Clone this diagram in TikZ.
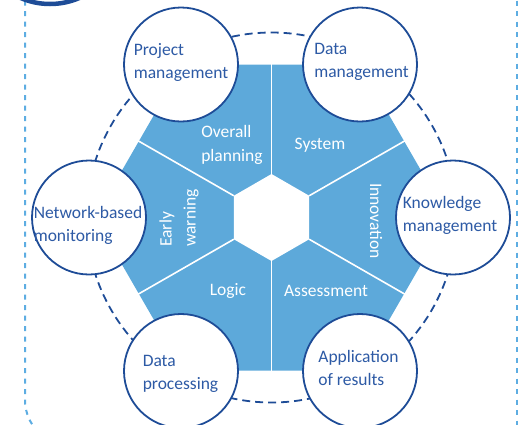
\documentclass[tikz,border=0pt]{standalone}
\usepackage{fontspec}
\setmainfont{Carlito}
\definecolor{hexblue}{HTML}{5DA9DA}
\definecolor{darkb}{HTML}{1E4C97}
\definecolor{txtb}{HTML}{2D5AA5}
\definecolor{framec}{HTML}{5DADE2}
\begin{document}
\begin{tikzpicture}[x=1pt,y=-1pt,
 bubble/.style={circle, draw=darkb, line width=1.8pt, fill=white, minimum size=114pt, inner sep=0pt},
 btext/.style={text=txtb, font=\fontsize{17.5}{23}\selectfont, align=left, inner sep=0pt},
 stext/.style={text=white, font=\fontsize{17.5}{24}\selectfont, align=left, inner sep=0pt},
 divider/.style={draw=white, line width=1.6pt},
 ring/.style={draw=darkb, line width=1.8pt, dash pattern=on 8pt off 5pt},
 frame/.style={draw=framec, line width=2pt, dash pattern=on 5pt off 5.5pt}]
\useasboundingbox (0,0) rectangle (529,424);
\clip (0,0) rectangle (529,424);
% frame
\draw[frame] (517,-10) -- (517,440);
\draw[frame, rounded corners=45pt] (25,-10) -- (25,445) -- (120,445);
% badge arc top-left
\draw[darkb, line width=4.5pt] (50,-70) circle[radius=74];
% outer hexagon
\fill[hexblue] (448.2,217.5) -- (359.85,64.5) -- (183.15,64.5) -- (94.8,217.5) -- (183.15,370.5) -- (359.85,370.5) -- cycle;
% inner hexagon
\fill[white] (271.5,174) -- (309.2,195.75) -- (309.2,239.25) -- (271.5,261) -- (233.8,239.25) -- (233.8,195.75) -- cycle;
% dividers
\coordinate (i1) at (271.5,174);
\coordinate (i2) at (309.2,195.75);
\coordinate (i3) at (309.2,239.25);
\coordinate (i4) at (271.5,261);
\coordinate (i5) at (233.8,239.25);
\coordinate (i6) at (233.8,195.75);
\coordinate (o1) at (271.5,60);
\coordinate (o2) at (408,139);
\coordinate (o3) at (408,296);
\coordinate (o4) at (271.5,375);
\coordinate (o5) at (135,296);
\coordinate (o6) at (135,139);
\foreach \k in {1,...,6} \draw[divider] (i\k) -- (o\k);
% dashed ring
\draw[ring] (271.5,217.5) circle[radius=185];
% bubbles
\node[bubble] (pm) at (181,64.5) {};
\node[bubble] (dm) at (360,64.5) {};
\node[bubble] (km) at (453,217.5) {};
\node[bubble] (ar) at (360,371) {};
\node[bubble] (dp) at (181,371) {};
\node[bubble] (nm) at (89,217.5) {};
% bubble texts
\node[btext] (pmt) at (181,62) {Project\\management};
\node[btext] (dmt) at (361.5,62) {Data\\management};
\node[btext] (kmt) at (450,215.5) {Knowledge\\management};
\node[btext] (nmt) at (88,225) {Network-based\\monitoring};
\node[btext] (dpt) at (180.5,373.5) {Data\\processing};
\node[btext] (art) at (358.5,367.5) {Application\\of results};
% segment texts
\node[stext] (s1) at (232,145) {Overall\\planning};
\node[stext] (s2) at (320,145) {System};
\node[stext, rotate=-90] (s3) at (376,221) {Innovation};
\node[stext] (s4) at (326,291) {Assessment};
\node[stext] (s5) at (228,291) {Logic};
\node[stext, rotate=90] (s6) at (179,218) {Early\\warning};
\end{tikzpicture}
\end{document}
